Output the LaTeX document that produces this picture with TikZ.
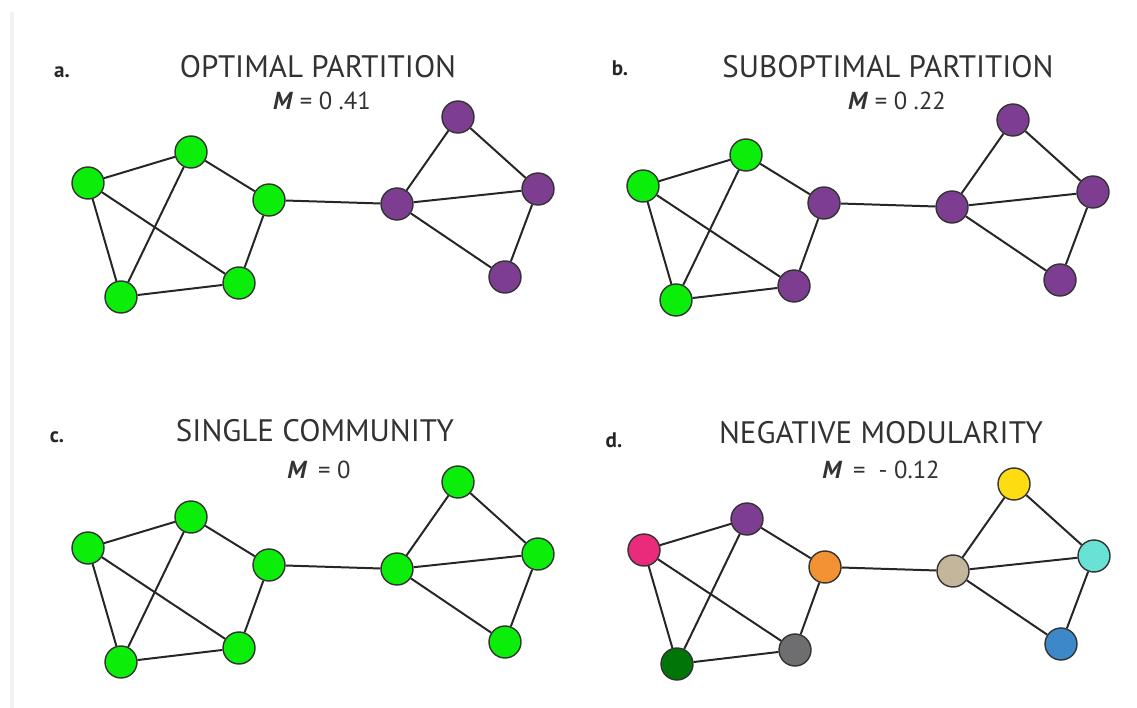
\documentclass[tikz,border=0pt]{standalone}
\usepackage{fontspec}
\setmainfont{PT Sans}
\usepackage{xcolor}
\usetikzlibrary{positioning}
\definecolor{cgreen}{RGB}{10,238,10}
\definecolor{cpurple}{RGB}{125,62,145}
\definecolor{cpink}{RGB}{234,42,122}
\definecolor{corange}{RGB}{243,146,52}
\definecolor{cgray}{RGB}{110,110,112}
\definecolor{cdkgreen}{RGB}{0,118,8}
\definecolor{ctan}{RGB}{196,182,155}
\definecolor{cyellow}{RGB}{254,220,18}
\definecolor{ccyan}{RGB}{104,226,212}
\definecolor{cblue}{RGB}{60,136,200}
\definecolor{ctext}{RGB}{50,50,50}
\tikzset{
  vtx/.style={circle, draw=black!80, fill=#1, line width=1.2pt,
    minimum size=0.96cm, inner sep=0pt},
  vtx/.default=cgreen,
  edge/.style={line width=1.7pt, draw=black!85},
  ttl/.style={font=\fontsize{26.5}{30}\selectfont, text=ctext},
  mval/.style={font=\fontsize{21}{24}\selectfont, text=ctext},
  tag/.style={font=\bfseries\fontsize{18}{20}\selectfont, text=black!85}
}
% one network: #1 name prefix, #2 list node/colour
\newcommand{\modnet}[2]{%
  \foreach \k/\x/\y in {1/88/183, 2/191/152, 3/269/200, 4/239/283,
                        5/121/297, 6/397/204, 7/458/117, 8/538/189, 9/505/277}
    \coordinate (#1p\k) at (\x,\y);
  \foreach \k/\c in {#2}
    \node[vtx=\c] (#1\k) at (#1p\k) {};
  \foreach \u/\v in {1/2, 1/5, 1/4, 2/5, 2/3, 3/4, 5/4,
                     3/6, 6/7, 6/8, 6/9, 7/8, 8/9}
    \draw[edge] (#1\u) -- (#1\v);
}

\begin{document}
\begin{tikzpicture}[x=0.03cm, y=-0.03cm]
  \useasboundingbox (0,0) rectangle (1137,708);
  \fill[black!5] (10,12) rectangle (14,708);

  % a. optimal partition
  \node[tag] (taga) at (62,72) {a.};
  \node[ttl] (ttla) at (318,67) {OPTIMAL PARTITION};
  \node[mval] (mva) at (322,101) {\textbf{\textit{M}} = 0 .41};
  \begin{scope}
    \modnet{a}{1/cgreen, 2/cgreen, 3/cgreen, 4/cgreen, 5/cgreen,
               6/cpurple, 7/cpurple, 8/cpurple, 9/cpurple}
  \end{scope}

  % b. suboptimal partition
  \node[tag] (tagb) at (620,68) {b.};
  \node[ttl] (ttlb) at (888,67) {SUBOPTIMAL PARTITION};
  \node[mval] (mvb) at (897,101) {\textbf{\textit{M}} = 0 .22};
  \begin{scope}[shift={(555,3)}]
    \modnet{b}{1/cgreen, 2/cgreen, 3/cpurple, 4/cpurple, 5/cgreen,
               6/cpurple, 7/cpurple, 8/cpurple, 9/cpurple}
  \end{scope}

  % c. single community
  \node[tag] (tagc) at (57,437) {c.};
  \node[ttl] (ttlc) at (315,431) {SINGLE COMMUNITY};
  \node[mval] (mvc) at (319,470) {\textbf{\textit{M}}\ \,= 0};
  \begin{scope}[shift={(0,365)}]
    \modnet{c}{1/cgreen, 2/cgreen, 3/cgreen, 4/cgreen, 5/cgreen,
               6/cgreen, 7/cgreen, 8/cgreen, 9/cgreen}
  \end{scope}

  % d. negative modularity
  \node[tag] (tagd) at (614,440) {d.};
  \node[ttl] (ttld) at (881,433) {NEGATIVE MODULARITY};
  \node[mval] (mvd) at (881,470) {\textbf{\textit{M}}\ \,=\ \ - 0.12};
  \begin{scope}[shift={(556,367)}]
    \modnet{d}{1/cpink, 2/cpurple, 3/corange, 4/cgray, 5/cdkgreen,
               6/ctan, 7/cyellow, 8/ccyan, 9/cblue}
  \end{scope}
\end{tikzpicture}
\end{document}
